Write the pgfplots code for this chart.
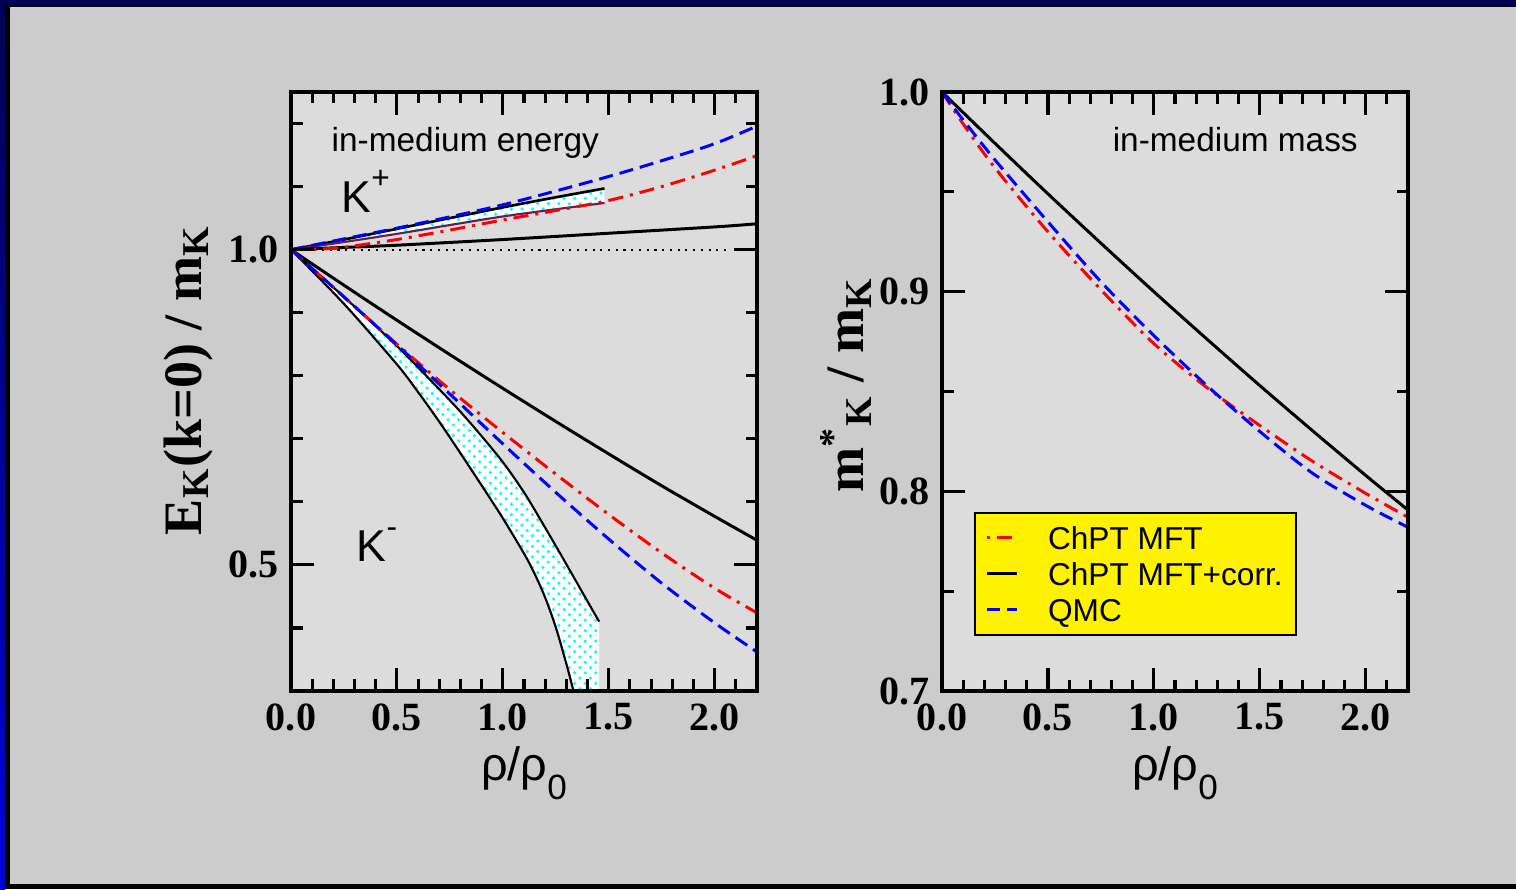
\documentclass[border=0pt]{standalone}
\usepackage{pgfplots}
\pgfplotsset{compat=1.18}
\usepackage{pgfplotstable}
\usetikzlibrary{patterns}
\usepackage{fontspec}
\setmainfont{Liberation Sans}
\newfontfamily\tnr{Liberation Serif}

\definecolor{outerbg}{RGB}{204,204,204}
\definecolor{innerbg}{RGB}{220,220,220}
\definecolor{navyc}{RGB}{0,0,85}
\definecolor{brightblue}{RGB}{0,0,215}
\definecolor{bandpurple}{RGB}{100,30,80}

% ---------- left panel data ----------
\pgfplotstableread{
x y
0 1.0
0.25 1.017
0.5 1.034
0.75 1.052
1.0 1.071
1.25 1.093
1.5 1.116
1.75 1.141
2.0 1.168
2.2 1.196
}\kpBlue
\pgfplotstableread{
x y
0 1.0
0.1 1.0005
0.2 1.002
0.3 1.006
0.5 1.016
0.75 1.031
1.0 1.047
1.25 1.062
1.5 1.078
1.75 1.100
2.0 1.126
2.2 1.149
}\kpRed
\pgfplotstableread{
x y
0 1.0
0.25 1.0035
0.5 1.007
1.0 1.016
1.5 1.026
2.0 1.036
2.2 1.041
}\kpBlack
\pgfplotstableread{
x y
0 1.0
0.25 1.016
0.5 1.033
0.75 1.050
1.0 1.067
1.25 1.083
1.48 1.097
}\kpU
\pgfplotstableread{
x y
0 1.0
0.25 1.012
0.5 1.025
0.75 1.039
1.0 1.0526
1.25 1.064
1.48 1.074
}\kpL
\pgfplotstableread{
x y
0 1.0
0.25 0.9435
0.5 0.888
0.75 0.8335
1.0 0.780
1.25 0.7275
1.5 0.676
1.75 0.6255
2.0 0.577
2.2 0.539
}\kmBlack
\pgfplotstableread{
x y
0 1.0
0.25 0.925
0.5 0.850
0.75 0.778
1.0 0.710
1.25 0.644
1.5 0.580
1.75 0.519
2.0 0.463
2.2 0.424
}\kmRed
\pgfplotstableread{
x y
0 1.0
0.25 0.925
0.5 0.849
0.75 0.771
1.0 0.692
1.25 0.615
1.5 0.541
1.75 0.471
2.0 0.408
2.2 0.362
}\kmBlue
\pgfplotstableread{
x y
0 1.0
0.25 0.925
0.5 0.847
0.75 0.761
0.875 0.714
1.0 0.663
1.1 0.615
1.2 0.559
1.3 0.501
1.4 0.442
1.455 0.410
}\kmU
\pgfplotstableread{
x y
0 1.0
0.25 0.914
0.5 0.818
0.6 0.774
0.7 0.727
0.8 0.677
0.9 0.626
1.0 0.574
1.1 0.518
1.15 0.486
1.2 0.448
1.25 0.401
1.3 0.343
1.335 0.298
1.38 0.235
1.42 0.18
1.455 0.13
}\kmL
% ---------- right panel data ----------
\pgfplotstableread{
x y
0 1.0
0.1 0.984
0.25 0.962
0.5 0.930
0.75 0.901
1.0 0.874
1.25 0.852
1.5 0.833
1.75 0.815
2.0 0.799
2.2 0.787
}\mRed
\pgfplotstableread{
x y
0 1.0
0.25 0.9743
0.5 0.9490
0.75 0.9243
1.0 0.9000
1.25 0.8763
1.5 0.8530
1.75 0.8303
2.0 0.8080
2.2 0.7906
}\mBlack
\pgfplotstableread{
x y
0 1.0
0.1 0.986
0.25 0.966
0.5 0.935
0.75 0.905
1.0 0.878
1.25 0.853
1.5 0.830
1.75 0.809
2.0 0.793
2.2 0.782
}\mBlue

\pgfplotsset{
  myaxis/.style={
    scale only axis, width=46.6mm, height=59.9mm,
    xmin=0, xmax=2.2,
    axis on top,
    axis background/.style={fill=innerbg},
    axis line style={line width=1.1pt},
    every tick/.style={black, line width=0.9pt},
    major tick length=2.3mm, minor tick length=1.15mm,
    tick align=inside,
    xtick={0,0.5,1,1.5,2},
    minor xtick={0.1,0.2,0.3,0.4,0.6,0.7,0.8,0.9,1.1,1.2,1.3,1.4,1.6,1.7,1.8,1.9,2.1},
    tick label style={font=\tnr\bfseries\fontsize{11.4}{12}\selectfont},
    /pgf/number format/assume math mode=true,
    x tick label style={/pgf/number format/fixed, /pgf/number format/fixed zerofill, /pgf/number format/precision=1},
    y tick label style={/pgf/number format/fixed, /pgf/number format/fixed zerofill, /pgf/number format/precision=1},
    xlabel={ρ/ρ\raisebox{-0.42em}{\fontsize{10}{11}\selectfont 0}},
    xlabel style={at={(axis description cs:0.5,-0.1486)}, anchor=base, font=\fontsize{13.3}{15}\selectfont},
  },
  redline/.style={red, line width=0.85pt, dash pattern=on 4.3pt off 2pt on 0.85pt off 2pt},
  blueline/.style={blue, line width=0.85pt, dash pattern=on 4pt off 2pt},
  blackline/.style={black, line width=0.85pt},
}

\begin{document}
\begin{tikzpicture}
% background and frame
\fill[outerbg] (0,0) rectangle (151.6mm,88.9mm);
\fill[navyc] (0,88.4mm) rectangle (151.6mm,88.9mm);
\fill[black] (0.5mm,88.2mm) rectangle (151.6mm,88.4mm);
\shade[top color=navyc, bottom color=brightblue] (0,0) rectangle (0.5mm,88.9mm);
\fill[black] (0.5mm,0) rectangle (0.95mm,88.4mm);
\fill[black] (0.5mm,0) rectangle (151.6mm,0.5mm);

% ---------------- left panel ----------------
\begin{axis}[myaxis, at={(29.1mm,19.8mm)}, anchor=south west,
  ymin=0.3, ymax=1.25,
  ytick={0.5,1.0},
  minor ytick={0.4,0.6,0.7,0.8,0.9,1.1,1.2},
  ylabel={E\textsubscript{K}(k=0) / m\textsubscript{K}},
  ylabel style={at={(axis description cs:-0.221,0.519)}, anchor=center, font=\tnr\bfseries\fontsize{15.4}{17}\selectfont},
]
% K+ band: white dotted area between upper and lower boundaries
\addplot[draw=none, fill=white, smooth] table {\kpU} \closedcycle;
\addplot[draw=none, pattern=crosshatch dots, pattern color=cyan, smooth] table {\kpU} \closedcycle;
\addplot[draw=innerbg, line width=0.6pt, fill=innerbg, smooth] table {\kpL} \closedcycle;
% K- band
\addplot[draw=none, fill=white, smooth] table {\kmU} \closedcycle;
\addplot[draw=none, pattern=crosshatch dots, pattern color=cyan, smooth] table {\kmU} \closedcycle;
\addplot[draw=innerbg, line width=0.6pt, fill=innerbg, smooth] table {\kmL} \closedcycle;
% reference line
\addplot[black, line width=0.5pt, dash pattern=on 0.6pt off 1.6pt] coordinates {(0,1) (2.08,1)};
% band boundary lines
\addplot[black, line width=0.75pt, smooth] table {\kpU};
\addplot[bandpurple, line width=0.6pt, smooth] table {\kpL};
\addplot[black, line width=0.6pt, smooth] table {\kmU};
\addplot[black, line width=0.6pt, smooth] table {\kmL};
% curves
\addplot[blackline, smooth] table {\kpBlack};
\addplot[blackline, smooth] table {\kmBlack};
\addplot[redline, smooth] table {\kpRed};
\addplot[redline, smooth] table {\kmRed};
\addplot[blueline, smooth] table {\kpBlue};
\addplot[blueline, smooth] table {\kmBlue};
% annotations
\node[anchor=base west, inner sep=0pt, font=\fontsize{9.5}{11}\selectfont] at (axis cs:0.189,1.155) {in-medium energy};
\node[anchor=base west, inner sep=0pt, font=\fontsize{12.7}{14}\selectfont] at (axis cs:0.236,1.0587) {K\raisebox{0.55em}{\fontsize{9}{10}\selectfont +}};
\node[anchor=base west, inner sep=0pt, font=\fontsize{12.7}{14}\selectfont] at (axis cs:0.307,0.505) {K\raisebox{0.55em}{\fontsize{9}{10}\selectfont -}};
\end{axis}

% ---------------- right panel ----------------
\begin{axis}[myaxis, at={(94.2mm,19.8mm)}, anchor=south west,
  ymin=0.7, ymax=1.0,
  ytick={0.7,0.8,0.9,1.0},
  minor ytick={0.75,0.85,0.95},
  ylabel={m\textsuperscript{*}\textsubscript{K} / m\textsubscript{K}},
  ylabel style={at={(axis description cs:-0.206,0.511)}, anchor=center, font=\tnr\bfseries\fontsize{15.4}{17}\selectfont},
  legend cell align=left,
  legend image code/.code={\draw[#1, dash phase=6.3pt] (0mm,0.05mm) -- (3mm,0.05mm);},
  legend style={at={(axis description cs:0.0687,0.2988)}, anchor=north west,
    fill=yellow, draw=black, line width=0.6pt,
    font=\fontsize{9}{10.8}\selectfont,
    inner xsep=1.0mm, inner ysep=0.7mm,
    nodes={inner sep=0.3mm, text height=2.6mm, text depth=0.4mm},
    /tikz/every odd column/.append style={column sep=2.7mm}},
]
\addplot[redline, smooth] table {\mRed};
\addlegendentry{ChPT MFT}
\addplot[blackline, smooth] table {\mBlack};
\addlegendentry{ChPT MFT+corr.}
\addplot[blueline, smooth] table {\mBlue};
\addlegendentry{QMC}
\node[anchor=base west, inner sep=0pt, font=\fontsize{9.5}{11}\selectfont] at (axis cs:0.803,0.970) {in-medium mass};
\end{axis}
\end{tikzpicture}
\end{document}
